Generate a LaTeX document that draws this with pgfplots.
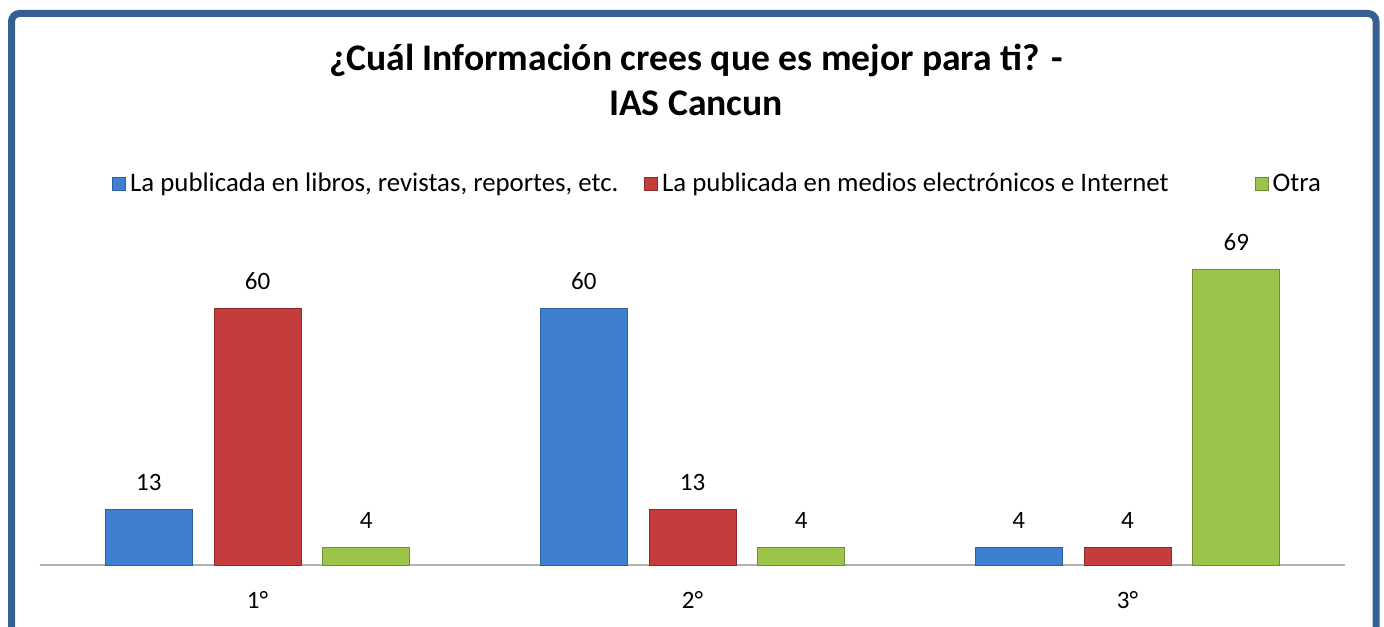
\documentclass[border=0pt]{standalone}
\usepackage{fontspec}
\setmainfont{Carlito}
\usepackage{pgfplots}
\pgfplotsset{compat=1.18}
\definecolor{frameblue}{HTML}{376092}
\definecolor{cblue}{HTML}{3F7FCF}
\definecolor{cblueD}{HTML}{2E5E9E}
\definecolor{cred}{HTML}{C43D3C}
\definecolor{credD}{HTML}{8E2A29}
\definecolor{cgreen}{HTML}{9CC44A}
\definecolor{cgreenD}{HTML}{6F8E31}
\begin{document}
\begin{tikzpicture}
\useasboundingbox (0,0) rectangle (692pt,-313pt);
\draw[frameblue, line width=3.5pt, rounded corners=4pt] (5.75pt,-330pt) -- (5.75pt,-6.75pt) -- (688pt,-6.75pt) -- (688pt,-330pt);
\node[align=center, font=\fontsize{18.8}{22.5}\selectfont\bfseries] at (348pt,-40pt) {¿Cuál Información crees que es mejor para ti? -\\IAS Cancun};
\begin{axis}[
  at={(20pt,-282.5pt)}, anchor=south west,
  scale only axis, width=652.5pt, height=171.3pt,
  xmin=-0.5, xmax=2.5, ymin=0, ymax=80,
  axis x line*=bottom, axis y line=none,
  x axis line style={-, draw=black!30, line width=0.8pt},
  xtick={0,1,2}, xticklabels={1°,2°,3°},
  major tick length=0pt,
  xticklabel style={font=\fontsize{12.5}{14}\selectfont, anchor=base, yshift=-21.5pt},
  ybar, bar width=0.2,
  /pgf/number format/assume math mode=true,
  nodes near coords,
  nodes near coords style={font=\fontsize{12.5}{14}\selectfont, anchor=base, yshift=9.5pt, black},
  legend columns=3,
  legend style={at={(rel axis cs:0.0552,1.112)}, anchor=west, draw=none, fill=none,
    font=\fontsize{13.4}{16}\selectfont, inner xsep=0pt,
    nodes={inner xsep=2pt},
    /tikz/every odd column/.append style={column sep=0pt},
    /tikz/every even column/.append style={column sep=11pt}},
  legend image code/.code={\draw[#1, line width=0.4pt] (0.5pt,-3.2pt) rectangle (7pt,3.3pt);},
]
\addplot[fill=cblue, draw=cblueD, line width=0.5pt, bar shift=-0.25] coordinates {(0,13) (1,60) (2,4)};
\addplot[fill=cred, draw=credD, line width=0.5pt, bar shift=0] coordinates {(0,60) (1,13) (2,4)};
\addplot[fill=cgreen, draw=cgreenD, line width=0.5pt, bar shift=0.25] coordinates {(0,4) (1,4) (2,69)};
\legend{{La publicada en libros, revistas, reportes, etc.},{La publicada en medios electrónicos e Internet\rule{30pt}{0pt}},{Otra}}
\end{axis}
\end{tikzpicture}
\end{document}
